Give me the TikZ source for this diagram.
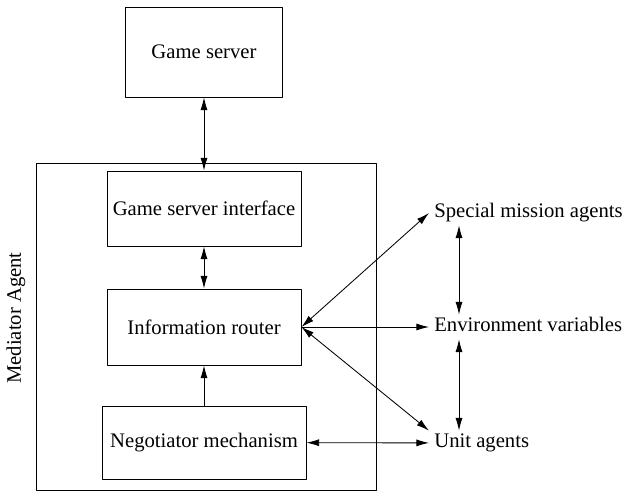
\documentclass[tikz,border=0pt]{standalone}
\usepackage{fontspec}
\setmainfont{Liberation Serif}
\usetikzlibrary{arrows.meta}
\begin{document}
\begin{tikzpicture}[x=0.025cm, y=-0.025cm, >={Latex[length=9pt,width=5pt]}, font=\fontsize{14.7}{17.6}\selectfont, line join=round, line cap=round, line width=0.6pt,
		box/.style={draw, inner sep=0pt, align=center},
		agent/.style={anchor=west, inner xsep=3.5pt, inner ysep=2pt, text height=10pt, text depth=3pt}]
			\def\xmid{204}
			\useasboundingbox (0,0) rectangle (624,493);
			% mediator agent and its parts
			\draw (36,163) rectangle (376,490);
			\node[rotate=90] (medlbl) at (16,318) {Mediator Agent};
			\node[box, minimum width=3.925cm, minimum height=2.25cm] (gs) at (\xmid,52) {Game server};
			\node[box, minimum width=4.85cm, minimum height=1.875cm] (gsi) at (\xmid,208.5) {Game server interface};
			\node[box, minimum width=4.85cm, minimum height=1.9cm] (ir) at (\xmid,327) {Information router};
			\node[box, minimum width=5.1cm, minimum height=1.825cm] (nm) at (\xmid,442.5) {Negotiator mechanism};
			% agents on the right
			\node[agent] (sma) at (429,213) {Special mission agents};
			\node[agent] (ev) at (429,327) {Environment variables};
			\node[agent] (ua) at (429,443) {Unit agents};
			\coordinate (vx) at (459,0);
			% links
			\draw[<->] (gs) -- (gsi);
			\draw[<->] (gsi) -- (ir);
			\draw[->] (nm) -- (ir);
			\draw[<->] (ir.east) -- (sma.west);
			\draw[->] (ir.east) -- (ev.west);
			\draw[<->] (ir.east) -- (ua.north west);
			\draw[<->] (nm) -- (ua);
			\draw[<->] (sma.south -| vx) -- (ev.north -| vx);
			\draw[<->] (ev.south -| vx) -- (ua.north -| vx);
		\end{tikzpicture}
\end{document}
